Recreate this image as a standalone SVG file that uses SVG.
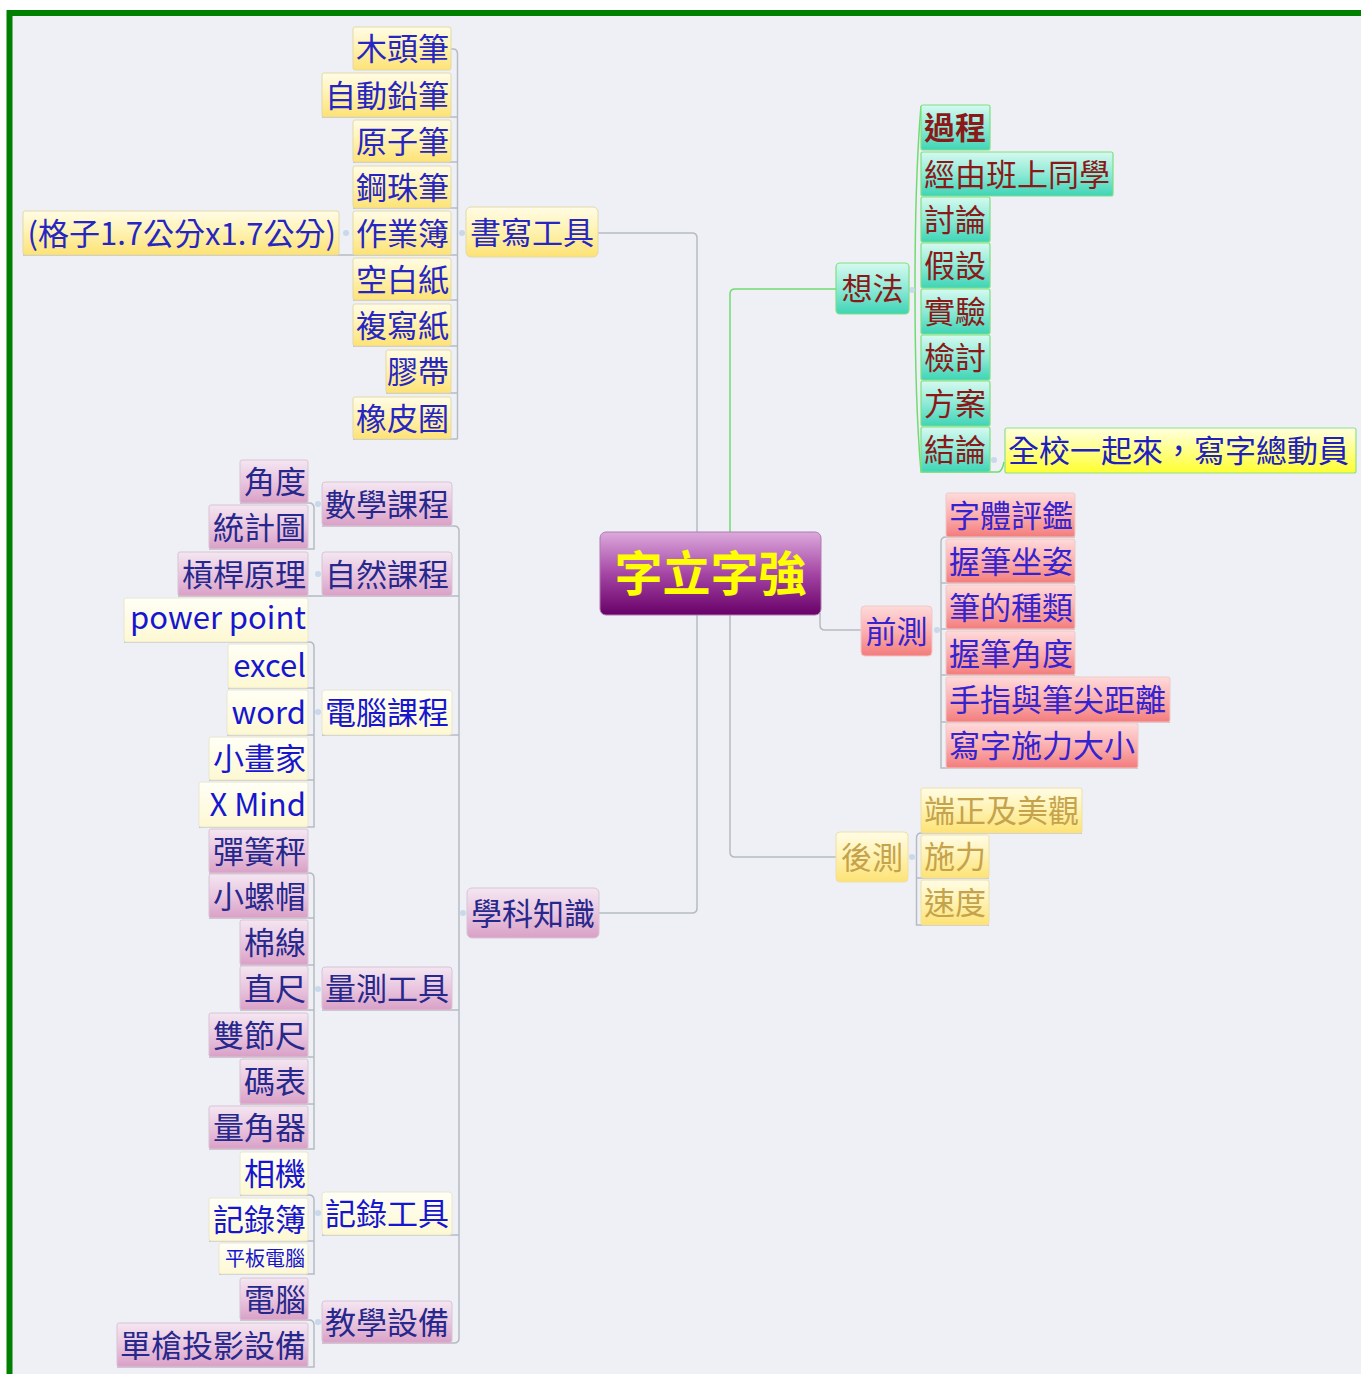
<svg xmlns="http://www.w3.org/2000/svg" width="1361" height="1374" viewBox="0 0 1361 1374">
<defs>
<linearGradient id="gY" x1="0" y1="0" x2="0" y2="1"><stop offset="0" stop-color="#fffce6"/><stop offset="0.45" stop-color="#fff3b4"/><stop offset="1" stop-color="#fde274"/></linearGradient>
<linearGradient id="gP" x1="0" y1="0" x2="0" y2="1"><stop offset="0" stop-color="#f4e6f1"/><stop offset="0.5" stop-color="#e9c6df"/><stop offset="1" stop-color="#d9a0c6"/></linearGradient>
<linearGradient id="gC" x1="0" y1="0" x2="0" y2="1"><stop offset="0" stop-color="#fffff6"/><stop offset="1" stop-color="#fdf8d2"/></linearGradient>
<linearGradient id="gT" x1="0" y1="0" x2="0" y2="1"><stop offset="0" stop-color="#d6f9f0"/><stop offset="0.5" stop-color="#8eead6"/><stop offset="1" stop-color="#3ed4b6"/></linearGradient>
<linearGradient id="gR" x1="0" y1="0" x2="0" y2="1"><stop offset="0" stop-color="#ffdada"/><stop offset="0.5" stop-color="#fbb0b0"/><stop offset="1" stop-color="#f47c7c"/></linearGradient>
<linearGradient id="gB" x1="0" y1="0" x2="0" y2="1"><stop offset="0" stop-color="#ffffe0"/><stop offset="1" stop-color="#ffff30"/></linearGradient>
<linearGradient id="gM" x1="0" y1="0" x2="0" y2="1"><stop offset="0" stop-color="#dcaadc"/><stop offset="0.5" stop-color="#a546a5"/><stop offset="1" stop-color="#680068"/></linearGradient>
<style>
.t{font-family:"Noto Sans CJK TC","Noto Sans",sans-serif;font-size:31px}
.e{text-anchor:end}
.m{text-anchor:middle}
.y rect{fill:url(#gY);stroke:#e2d9a8;stroke-width:1}
.p rect{fill:url(#gP);stroke:#d8c4d4;stroke-width:1}
.c rect{fill:url(#gC);stroke:#e8e6d0;stroke-width:1}
.tl rect{fill:url(#gT);stroke:#7fe07f;stroke-width:1.2}
.r rect{fill:url(#gR);stroke:#f0c8c8;stroke-width:1}
.y2 rect{fill:url(#gY);stroke:#ede0a8;stroke-width:1}
.y text{fill:#2626c2}
.p text{fill:#27288c}
.c text{fill:#1616d0}
.tl text{fill:#8a1a1a}
.r text{fill:#3523cf}
.y2 text{fill:#c5a24c}
.ln{fill:none;stroke:#b6bac2;stroke-width:1.5}
.gl{fill:none;stroke:#70dc70;stroke-width:1.5}
.dot{fill:#c9d8ea}
</style>
</defs>
<rect x="0" y="0" width="1361" height="1374" fill="#ffffff"/>
<rect x="9.5" y="13" width="1400" height="1400" fill="#eef0f5" stroke="#008000" stroke-width="6"/>

<g id="connectors">
<path class="ln" d="M598 233 H692 Q697 233 697 238 V908 Q697 913 692 913 H599"/>
<path class="gl" d="M836 289 H735 Q730 289 730 294 V532"/>
<path class="ln" d="M730 615 V852 Q730 857 735 857 H836"/>
<path class="ln" d="M820 613 V625 Q820 630 825 630 H861"/>
<path class="ln" d="M451 49 H453 Q457.5 49 457.5 54 V439"/>
<path class="ln" d="M322 117 H457.5 M353 162 H457.5 M353 208 H457.5 M23 255 H457.5 M353 300 H457.5 M353 346 H457.5 M386 393 H457.5 M353 439 H457.5"/>
<circle class="dot" cx="462" cy="233" r="3"/>
<circle class="dot" cx="346" cy="233" r="3"/>
<path class="ln" d="M322 526 H454 Q459 526 459 531 V1338 Q459 1343 454 1343 H322"/>
<path class="ln" d="M322 596 H459 M322 735 H459 M322 1010 H459 M322 1235 H459"/>
<circle class="dot" cx="463" cy="913" r="3"/>
<path class="ln" d="M240 503 H309 Q314 503 314 508 V549 H209"/>
<circle class="dot" cx="318" cy="504" r="3"/>
<path class="ln" d="M178 596 H322"/>
<circle class="dot" cx="318" cy="574" r="3"/>
<path class="ln" d="M124 642 H309 Q314 642 314 647 V827 H199 M228 688 H314 M227 735 H314 M209 780 H314"/>
<circle class="dot" cx="318" cy="712" r="3"/>
<path class="ln" d="M209 873 H309 Q314 873 314 878 V1149 H209 M209 918 H314 M240 965 H314 M240 1010 H314 M209 1057 H314 M240 1104 H314"/>
<circle class="dot" cx="318" cy="989" r="3"/>
<path class="ln" d="M240 1195 H309 Q314 1195 314 1200 V1274 H219 M209 1241 H314"/>
<circle class="dot" cx="318" cy="1213" r="3"/>
<path class="ln" d="M240 1320 H309 Q314 1320 314 1325 V1367 H117"/>
<circle class="dot" cx="318" cy="1322" r="3"/>
<path class="gl" d="M921 106 C913 200 913 380 921 472 H998 Q1002 472 1004 462"/>
<circle class="dot" cx="912" cy="290" r="3"/>
<circle class="dot" cx="994" cy="460" r="3"/>
<path class="ln" d="M1075 537 H946 Q941 537 941 542 V768 H1138 M941 583 H1075 M941 629 H1075 M941 675 H1075 M941 722 H1170"/>
<circle class="dot" cx="937" cy="630" r="3"/>
<path class="ln" d="M1082 833 H921.5 Q916.5 833 916.5 838 V925 H989 M916.5 878 H989"/>
<circle class="dot" cx="912" cy="857" r="3"/>
</g>

<g id="n_shuxie" class="y"><rect x="466" y="207" width="132" height="50" rx="5"/><text class="t m" x="532" y="243.5">書寫工具</text></g>
<g id="n_mutou" class="y"><rect x="353" y="27" width="98" height="43" rx="2"/><text class="t e" x="449" y="60">木頭筆</text></g>
<g id="n_zidong" class="y"><rect x="322" y="73" width="129" height="44" rx="2"/><text class="t e" x="449" y="106.5">自動鉛筆</text></g>
<g id="n_yuanzi" class="y"><rect x="353" y="120" width="98" height="42" rx="2"/><text class="t e" x="449" y="152.5">原子筆</text></g>
<g id="n_gangzhu" class="y"><rect x="353" y="166" width="98" height="42" rx="2"/><text class="t e" x="449" y="198.5">鋼珠筆</text></g>
<g id="n_zuoye" class="y"><rect x="353" y="211" width="98" height="44" rx="2"/><text class="t e" x="449" y="244.5">作業簿</text></g>
<g id="n_gezi" class="y"><rect x="23" y="211" width="316" height="44" rx="2"/><text class="t e" x="336" y="244.5">(格子1.7公分x1.7公分)</text></g>
<g id="n_kongbai" class="y"><rect x="353" y="258" width="98" height="42" rx="2"/><text class="t e" x="449" y="290.5">空白紙</text></g>
<g id="n_fuxie" class="y"><rect x="353" y="304" width="98" height="42" rx="2"/><text class="t e" x="449" y="336.5">複寫紙</text></g>
<g id="n_jiaodai" class="y"><rect x="386" y="350" width="65" height="43" rx="2"/><text class="t e" x="449" y="383">膠帶</text></g>
<g id="n_xiangpi" class="y"><rect x="353" y="397" width="98" height="42" rx="2"/><text class="t e" x="449" y="429.5">橡皮圈</text></g>

<g id="n_xueke" class="p"><rect x="467" y="888" width="132" height="50" rx="5"/><text class="t m" x="533" y="924.5">學科知識</text></g>
<g id="n_shuxue" class="p"><rect x="322" y="482" width="130" height="44" rx="3"/><text class="t m" x="387" y="515.5">數學課程</text></g>
<g id="n_jiaodu" class="p"><rect x="240" y="460" width="68" height="43" rx="2"/><text class="t e" x="306" y="493">角度</text></g>
<g id="n_tongji" class="p"><rect x="209" y="505" width="99" height="44" rx="2"/><text class="t e" x="306" y="538.5">統計圖</text></g>
<g id="n_ziran" class="p"><rect x="322" y="552" width="130" height="44" rx="3"/><text class="t m" x="387" y="585.5">自然課程</text></g>
<g id="n_ganggan" class="p"><rect x="178" y="552" width="130" height="44" rx="2"/><text class="t e" x="306" y="585.5">槓桿原理</text></g>
<g id="n_diannaokc" class="c"><rect x="322" y="690" width="130" height="45" rx="3"/><text class="t m" x="387" y="724">電腦課程</text></g>
<g id="n_ppt" class="c"><rect x="124" y="598" width="184" height="44" rx="2"/><text class="t e" x="306" y="629">power point</text></g>
<g id="n_excel" class="c"><rect x="228" y="644" width="80" height="44" rx="2"/><text class="t e" x="306" y="677">excel</text></g>
<g id="n_word" class="c"><rect x="227" y="690" width="81" height="45" rx="2"/><text class="t e" x="306" y="723.5">word</text></g>
<g id="n_xiaohua" class="c"><rect x="209" y="737" width="99" height="43" rx="2"/><text class="t e" x="306" y="770">小畫家</text></g>
<g id="n_xmind" class="c"><rect x="199" y="782" width="109" height="45" rx="2"/><text class="t e" x="306" y="815.5">X Mind</text></g>
<g id="n_liangce" class="p"><rect x="322" y="967" width="130" height="43" rx="3"/><text class="t m" x="387" y="1000">量測工具</text></g>
<g id="n_tanhuang" class="p"><rect x="209" y="829" width="99" height="44" rx="2"/><text class="t e" x="306" y="862.5">彈簧秤</text></g>
<g id="n_luomao" class="p"><rect x="209" y="874" width="99" height="44" rx="2"/><text class="t e" x="306" y="907.5">小螺帽</text></g>
<g id="n_mianxian" class="p"><rect x="240" y="920" width="68" height="45" rx="2"/><text class="t e" x="306" y="954">棉線</text></g>
<g id="n_zhichi" class="p"><rect x="240" y="966" width="68" height="44" rx="2"/><text class="t e" x="306" y="999.5">直尺</text></g>
<g id="n_shuangjie" class="p"><rect x="209" y="1013" width="99" height="44" rx="2"/><text class="t e" x="306" y="1046.5">雙節尺</text></g>
<g id="n_mabiao" class="p"><rect x="240" y="1059" width="68" height="45" rx="2"/><text class="t e" x="306" y="1093">碼表</text></g>
<g id="n_liangjiao" class="p"><rect x="209" y="1106" width="99" height="43" rx="2"/><text class="t e" x="306" y="1139">量角器</text></g>
<g id="n_jilu" class="c"><rect x="322" y="1192" width="130" height="43" rx="3"/><text class="t m" x="387" y="1225">記錄工具</text></g>
<g id="n_xiangji" class="c"><rect x="240" y="1152" width="68" height="43" rx="2"/><text class="t e" x="306" y="1185">相機</text></g>
<g id="n_jilubu" class="c"><rect x="209" y="1198" width="99" height="43" rx="2"/><text class="t e" x="306" y="1231">記錄簿</text></g>
<g id="n_pingban" class="c"><rect x="219" y="1243" width="89" height="31" rx="2"/><text class="t e" x="305" y="1266" style="font-size:20px">平板電腦</text></g>
<g id="n_jiaoxue" class="p"><rect x="322" y="1301" width="130" height="42" rx="3"/><text class="t m" x="387" y="1333.5">教學設備</text></g>
<g id="n_diannao" class="p"><rect x="240" y="1278" width="68" height="42" rx="2"/><text class="t e" x="306" y="1310.5">電腦</text></g>
<g id="n_danqiang" class="p"><rect x="117" y="1323" width="191" height="44" rx="2"/><text class="t e" x="306" y="1356.5">單槍投影設備</text></g>

<g id="n_xiangfa" class="tl"><rect x="836" y="263" width="73" height="51" rx="4"/><text class="t m" x="872.5" y="300">想法</text></g>
<g id="n_guocheng" class="tl"><rect x="921" y="105" width="69" height="45" rx="2"/><text class="t" x="924" y="139" font-weight="bold">過程</text></g>
<g id="n_jingyou" class="tl"><rect x="921" y="152" width="192" height="44" rx="2"/><text class="t" x="924" y="185.5">經由班上同學</text></g>
<g id="n_taolun" class="tl"><rect x="921" y="197" width="69" height="45" rx="2"/><text class="t" x="924" y="231">討論</text></g>
<g id="n_jiashe" class="tl"><rect x="921" y="243" width="69" height="45" rx="2"/><text class="t" x="924" y="277">假設</text></g>
<g id="n_shiyan" class="tl"><rect x="921" y="289" width="69" height="45" rx="2"/><text class="t" x="924" y="323">實驗</text></g>
<g id="n_jiantao" class="tl"><rect x="921" y="335" width="69" height="45" rx="2"/><text class="t" x="924" y="369">檢討</text></g>
<g id="n_fangan" class="tl"><rect x="921" y="381" width="69" height="45" rx="2"/><text class="t" x="924" y="415">方案</text></g>
<g id="n_jielun" class="tl"><rect x="921" y="427" width="69" height="45" rx="2"/><text class="t" x="924" y="461">結論</text></g>
<g id="n_quanxiao"><rect x="1005" y="428" width="351" height="45" rx="2" fill="url(#gB)" stroke="#8ee08e" stroke-width="1.2"/><text class="t" x="1008" y="462" fill="#2020c0">全校一起來，寫字總動員</text></g>

<g id="n_qiance" class="r"><rect x="861" y="606" width="71" height="50" rx="4"/><text class="t m" x="896.5" y="642.5">前測</text></g>
<g id="n_ziti" class="r"><rect x="946" y="493" width="129" height="44" rx="2"/><text class="t" x="949" y="526.5">字體評鑑</text></g>
<g id="n_wobi" class="r"><rect x="946" y="539" width="129" height="44" rx="2"/><text class="t" x="949" y="572.5">握筆坐姿</text></g>
<g id="n_bide" class="r"><rect x="946" y="585" width="129" height="44" rx="2"/><text class="t" x="949" y="618.5">筆的種類</text></g>
<g id="n_wobijiao" class="r"><rect x="946" y="631" width="129" height="44" rx="2"/><text class="t" x="949" y="664.5">握筆角度</text></g>
<g id="n_shouzhi" class="r"><rect x="946" y="677" width="224" height="45" rx="2"/><text class="t" x="949" y="711">手指與筆尖距離</text></g>
<g id="n_xiezi" class="r"><rect x="946" y="723" width="192" height="45" rx="2"/><text class="t" x="949" y="757">寫字施力大小</text></g>

<g id="n_houce" class="y2"><rect x="836" y="832" width="72" height="50" rx="4"/><text class="t m" x="872" y="868.5">後測</text></g>
<g id="n_duanzheng" class="y2"><rect x="921" y="788" width="161" height="45" rx="2"/><text class="t" x="924" y="822">端正及美觀</text></g>
<g id="n_shili" class="y2"><rect x="921" y="835" width="68" height="43" rx="2"/><text class="t" x="924" y="868">施力</text></g>
<g id="n_sudu" class="y2"><rect x="921" y="880" width="68" height="45" rx="2"/><text class="t" x="924" y="914">速度</text></g>

<g id="n_center"><rect x="600" y="532" width="221" height="83" rx="6" fill="url(#gM)" stroke="#b07ab0" stroke-width="1"/><text x="710.5" y="591" text-anchor="middle" font-family="'Noto Sans CJK TC','Noto Sans',sans-serif" font-size="48" font-weight="bold" fill="#ffff00">字立字強</text></g>
</svg>
